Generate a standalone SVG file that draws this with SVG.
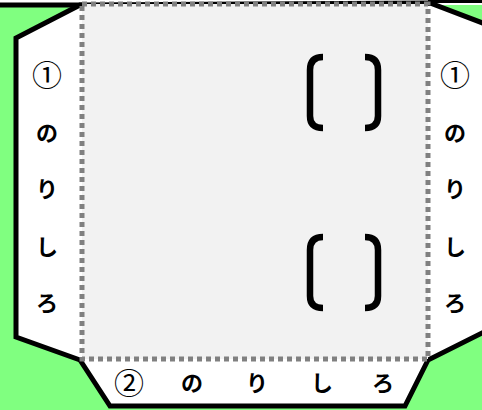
<svg xmlns="http://www.w3.org/2000/svg" width="482" height="410" viewBox="0 0 482 410">
<style>
.k{font-family:"Noto Sans CJK JP","Noto Sans",sans-serif;font-size:22px;font-weight:bold;text-anchor:middle;fill:#000}
.n{font-weight:normal;font-size:30px}
.br{fill:none;stroke:#000;stroke-width:6.5}
</style>
<rect width="482" height="410" fill="#fff"/>
<g id="background">
<rect x="0" y="5" width="482" height="405" fill="#80ff80"/>
<line x1="0" y1="5" x2="82" y2="5" stroke="#000" stroke-width="5"/>
<line x1="428" y1="1" x2="482" y2="1" stroke="#000" stroke-width="4"/>
</g>
<g id="envelope">
<polygon points="80,5 16,38 16,337 80,360 110,406 405,406 428,360 488,330 488,25 430,3" fill="#fff" stroke="#000" stroke-width="5" stroke-linejoin="miter"/>
</g>
<g id="front">
<rect x="82" y="4" width="346" height="355" fill="#f2f2f2" stroke="#808080" stroke-width="5" stroke-dasharray="5 4"/>
</g>
<g id="brackets">
<path class="br" d="M323,57 Q310,57 310,70 L310,116 Q310,128 323,128"/>
<path class="br" d="M365,57 Q378,57 378,70 L378,116 Q378,128 365,128"/>
<path class="br" d="M323,237 Q310,237 310,250 L310,296 Q310,308 323,308"/>
<path class="br" d="M365,237 Q378,237 378,250 L378,296 Q378,308 365,308"/>
</g>
<g id="left-label">
<text class="k n" x="47" y="86">①</text>
<text class="k" x="47" y="141">の</text>
<text class="k" x="47" y="197">り</text>
<text class="k" x="47" y="255">し</text>
<text class="k" x="47" y="311">ろ</text>
</g>
<g id="right-label">
<text class="k n" x="455" y="86">①</text>
<text class="k" x="455" y="141">の</text>
<text class="k" x="455" y="197">り</text>
<text class="k" x="455" y="255">し</text>
<text class="k" x="455" y="311">ろ</text>
</g>
<g id="bottom-label">
<text class="k n" x="129" y="394">②</text>
<text class="k" x="192" y="391">の</text>
<text class="k" x="257" y="391">り</text>
<text class="k" x="322" y="391">し</text>
<text class="k" x="383" y="391">ろ</text>
</g>
<g id="connectors"></g>
</svg>
